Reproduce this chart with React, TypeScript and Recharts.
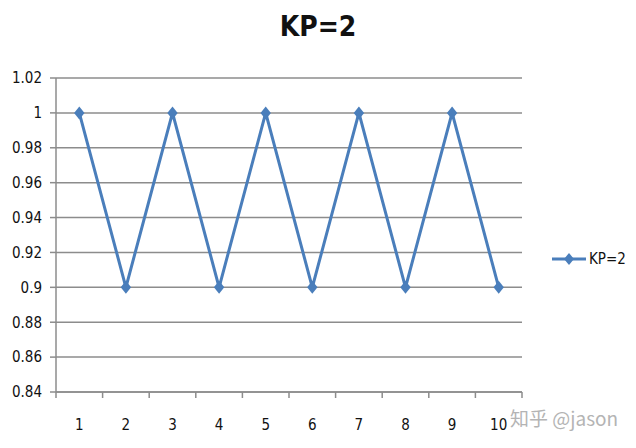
import { LineChart, Line, XAxis, YAxis, CartesianGrid } from 'recharts';

const categories = [1, 2, 3, 4, 5, 6, 7, 8, 9, 10];
const kpValues = [1, 0.9, 1, 0.9, 1, 0.9, 1, 0.9, 1, 0.9];
const yTicks = [0.84, 0.86, 0.88, 0.9, 0.92, 0.94, 0.96, 0.98, 1, 1.02];
const boundaryTicks = [0.5, 1.5, 2.5, 3.5, 4.5, 5.5, 6.5, 7.5, 8.5, 9.5, 10.5];

const data = categories.map((c, i) => ({ x: c, kp: kpValues[i] }));

const BLUE = '#4a7ebb';
const GRID = '#8c8c8c';
const FONT = "'Liberation Sans Narrow', 'DejaVu Sans Condensed', 'Open Sans', sans-serif";

function Diamond({ cx, cy }: any) {
  if (cx == null || cy == null) return null;
  const r = 6.5;
  return <path d={`M${cx},${cy - r}L${cx + r * 0.8},${cy}L${cx},${cy + r}L${cx - r * 0.8},${cy}Z`} fill={BLUE} />;
}

export default function App() {
  return (
    <div style={{ position: 'fixed', left: 0, top: 0, width: 636, height: 448, background: '#fff' }}>
      <div
        style={{
          position: 'absolute', left: 0, width: 636, top: 10, textAlign: 'center',
          fontFamily: FONT, fontWeight: 700, fontSize: 28, color: '#111'
        }}
      >
        KP=2
      </div>
      <LineChart width={636} height={448} data={data} margin={{ top: 78, right: 114, bottom: 6, left: 0 }}>
        <CartesianGrid vertical={false} stroke={GRID} strokeWidth={1.5} />
        <XAxis
          xAxisId="bd"
          dataKey="x"
          type="number"
          domain={[0.5, 10.5]}
          ticks={boundaryTicks}
          tick={() => <g />}
          height={6}
          tickSize={6}
          stroke={GRID}
          strokeWidth={1.5}
        />
        <XAxis
          xAxisId="lab"
          dataKey="x"
          type="number"
          domain={[0.5, 10.5]}
          ticks={categories}
          axisLine={false}
          tickLine={false}
          tickSize={0}
          tickMargin={21}
          height={44}
          tick={{ fill: '#111', fontSize: 15, fontFamily: FONT }}
        />
        <YAxis
          width={56}
          domain={[0.84, 1.02]}
          ticks={yTicks}
          tickFormatter={(v: number) => String(Number(v.toFixed(2)))}
          stroke={GRID}
          strokeWidth={1.5}
          tickSize={6}
          tickMargin={8}
          tick={{ fill: '#111', fontSize: 15, fontFamily: FONT }}
        />
        <Line
          xAxisId="lab"
          dataKey="kp"
          name="KP=2"
          stroke={BLUE}
          strokeWidth={3}
          dot={<Diamond />}
          activeDot={false}
          isAnimationActive={false}
        />
      </LineChart>
      <div
        style={{
          position: 'absolute', left: 552, top: 250, display: 'flex', alignItems: 'center',
          fontFamily: FONT, fontSize: 15, color: '#111'
        }}
      >
        <svg width={34} height={16}>
          <line x1={0} y1={8} x2={34} y2={8} stroke={BLUE} strokeWidth={3} />
          <path d="M17,2L22,8L17,14L12,8Z" fill={BLUE} />
        </svg>
        <span style={{ marginLeft: 3 }}>KP=2</span>
      </div>
      <div
        style={{
          position: 'absolute', left: 510, top: 404, fontFamily: "'Noto Sans CJK SC', sans-serif",
          fontSize: 19, color: '#b4b4b4'
        }}
      >
        知乎 @jason
      </div>
    </div>
  );
}
